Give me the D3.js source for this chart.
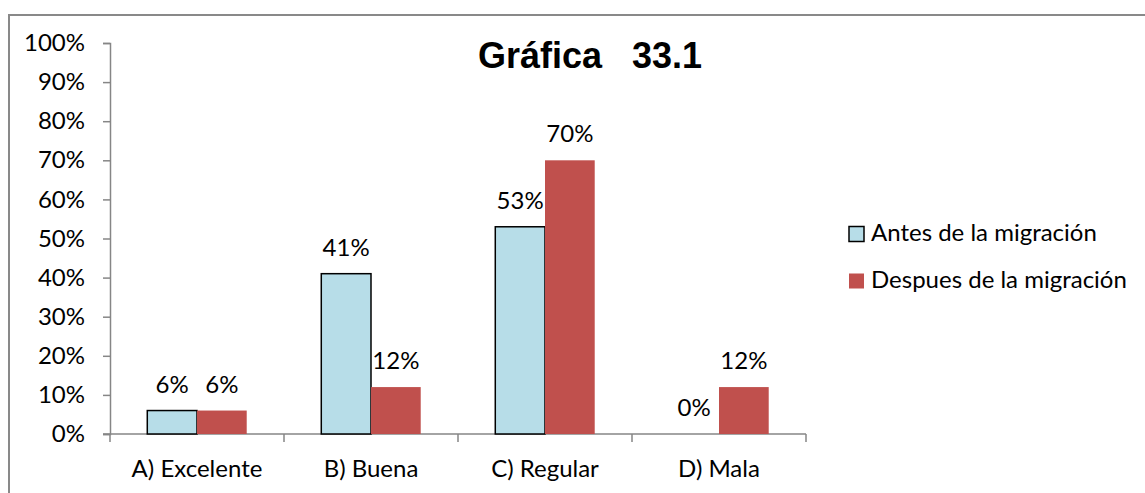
<!DOCTYPE html>
<html>
<head>
<meta charset="utf-8">
<script src="https://cdn.jsdelivr.net/npm/d3@7"></script>
<style>
  html, body { margin: 0; padding: 0; background: #fff; }
  svg { display: block; }
</style>
</head>
<body>
<svg id="chart" width="1145" height="493"></svg>
<script>
// Survey answers before and after migration
const categories = ["A) Excelente", "B) Buena", "C) Regular", "D) Mala"];
const seriesNames = ["Antes de la migración", "Despues de la migración"];
const antes = [6, 41, 53, 0];
const despues = [6, 12, 70, 12];
const yTicks = [0, 10, 20, 30, 40, 50, 60, 70, 80, 90, 100];
const colors = ["#B7DDE8", "#C0504D"];

const svg = d3.select("#chart");
const font = "Lato, 'Open Sans', sans-serif";
const fontSize = "24px";

// Chart-area frame (top and left edges visible)
svg.append("path")
  .attr("d", "M9,1000 L9,15 L1145,15")
  .attr("fill", "none")
  .attr("stroke", "#898989")
  .attr("stroke-width", 2);

const plot = { left: 110, right: 806, top: 43, bottom: 434 };

const x0 = d3.scaleBand()
  .domain(categories)
  .range([plot.left, plot.right])
  .paddingInner(0)
  .paddingOuter(0);

// Bars take 2/(2+1.5) of each category band (gap width 150%)
const groupW = x0.bandwidth() * 2 / 3.5;
const x1 = d3.scaleBand()
  .domain(seriesNames)
  .range([0, groupW]);

const y = d3.scaleLinear().domain([0, 100]).range([plot.bottom, plot.top]);

// Y axis
const yAxis = svg.append("g")
  .attr("transform", `translate(${plot.left},0)`)
  .call(d3.axisLeft(y).tickValues(yTicks).tickSize(7).tickPadding(18).tickFormat(d => d + "%"));
yAxis.select(".domain").attr("stroke", "#868686").attr("stroke-width", 1.5);
yAxis.selectAll(".tick line").attr("stroke", "#868686").attr("stroke-width", 1.5);
yAxis.selectAll(".tick text")
  .attr("fill", "#000")
  .style("font-family", font)
  .style("font-size", fontSize);

// X axis with ticks between categories
const xAxisG = svg.append("g").attr("transform", `translate(0,${plot.bottom})`);
xAxisG.append("line")
  .attr("x1", plot.left - 7).attr("x2", plot.right)
  .attr("y1", 0).attr("y2", 0)
  .attr("stroke", "#868686").attr("stroke-width", 1.5);
const boundaries = categories.map(c => x0(c)).concat([plot.right]);
xAxisG.selectAll("line.tk")
  .data(boundaries)
  .join("line")
  .attr("class", "tk")
  .attr("x1", d => d).attr("x2", d => d)
  .attr("y1", 0).attr("y2", 8)
  .attr("stroke", "#868686").attr("stroke-width", 1.5);
xAxisG.selectAll("text")
  .data(categories)
  .join("text")
  .attr("x", d => x0(d) + x0.bandwidth() / 2)
  .attr("y", 43)
  .attr("text-anchor", "middle")
  .style("font-family", font)
  .style("font-size", fontSize)
  .text(d => d);

// Bars
const rows = categories.map((c, i) => ({
  cat: c,
  vals: [
    { name: seriesNames[0], v: antes[i], idx: 0 },
    { name: seriesNames[1], v: despues[i], idx: 1 }
  ]
}));

const groups = svg.append("g").selectAll("g")
  .data(rows)
  .join("g")
  .attr("transform", d => `translate(${x0(d.cat) + (x0.bandwidth() - groupW) / 2},0)`);

groups.selectAll("rect")
  .data(d => d.vals.filter(v => v.v > 0))
  .join("rect")
  .attr("x", d => x1(d.name))
  .attr("y", d => y(d.v))
  .attr("width", x1.bandwidth())
  .attr("height", d => y(0) - y(d.v))
  .attr("fill", d => colors[d.idx])
  .attr("stroke", d => d.idx === 0 ? "#000" : "none")
  .attr("stroke-width", 1.5);

groups.selectAll("text")
  .data(d => d.vals)
  .join("text")
  .attr("x", d => x1(d.name) + x1.bandwidth() / 2)
  .attr("y", d => y(d.v) - 18)
  .attr("text-anchor", "middle")
  .style("font-family", font)
  .style("font-size", fontSize)
  .text(d => d.v + "%");

// Title
svg.append("text")
  .attr("x", 590)
  .attr("y", 68)
  .attr("text-anchor", "middle")
  .style("font-family", "'Liberation Sans', Arial, sans-serif")
  .style("font-weight", "bold")
  .style("font-size", "36px")
  .attr("xml:space", "preserve")
  .text("Gráfica   33.1");

// Legend
const legend = svg.append("g").selectAll("g")
  .data(seriesNames)
  .join("g")
  .attr("transform", (d, i) => `translate(849,${234 + i * 47})`);
legend.append("rect")
  .attr("x", 0)
  .attr("y", -7.5)
  .attr("width", 15).attr("height", 15)
  .attr("fill", d => colors[seriesNames.indexOf(d)])
  .attr("stroke", d => seriesNames.indexOf(d) === 0 ? "#000" : "none")
  .attr("stroke-width", 1.5);
legend.append("text")
  .attr("x", 22)
  .attr("y", 7)
  .style("font-family", font)
  .style("font-size", fontSize)
  .text(d => d);
</script>
</body>
</html>
